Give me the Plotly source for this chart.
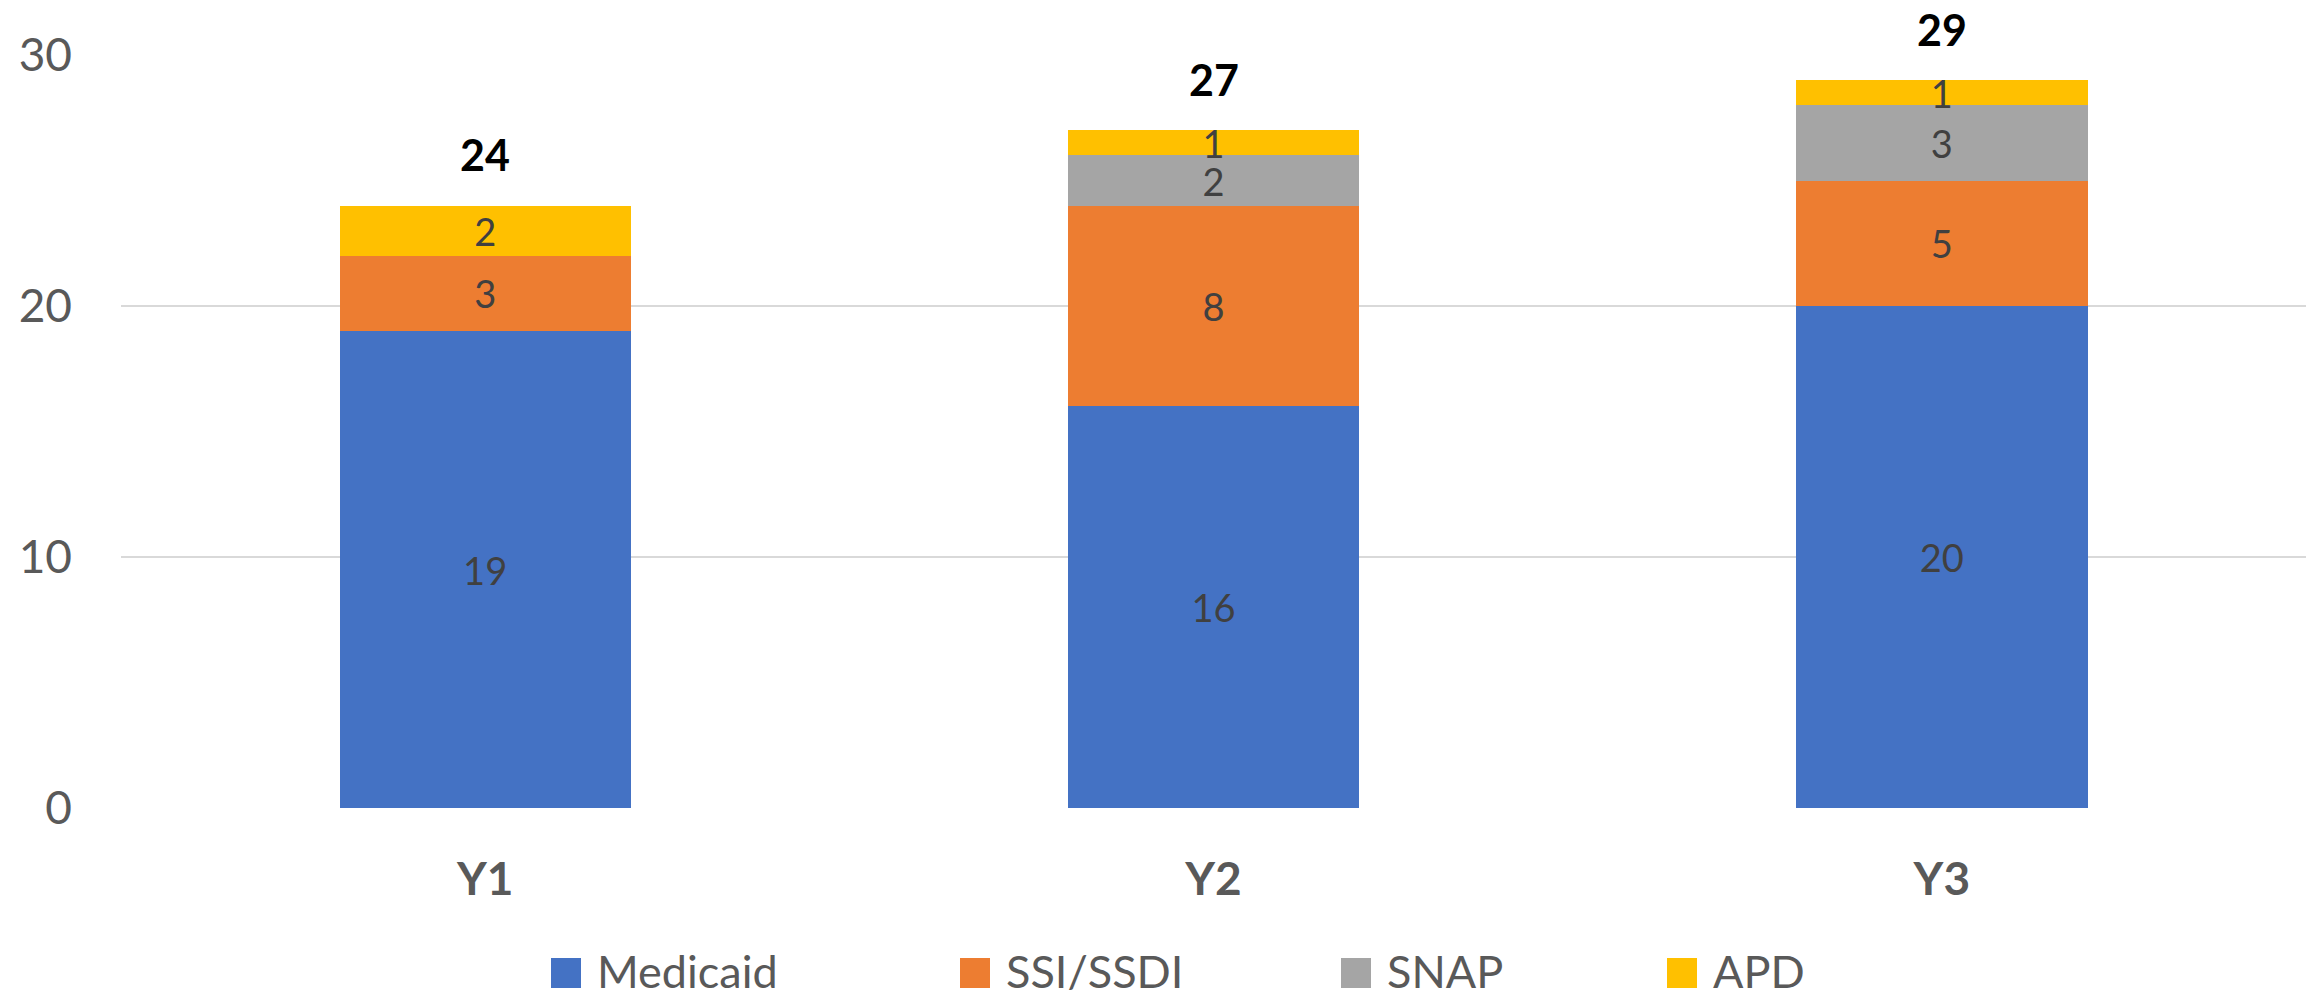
import plotly.graph_objects as go

# chart data
years = ["Y1", "Y2", "Y3"]
medicaid = [19, 16, 20]
ssi_ssdi = [3, 8, 5]
snap = [0, 2, 3]
apd = [2, 1, 1]

series_names = ["Medicaid", "SSI/SSDI", "SNAP", "APD"]
series_values = [medicaid, ssi_ssdi, snap, apd]
series_colors = ["#4472C4", "#ED7D31", "#A5A5A5", "#FFC000"]

totals = [sum(v) for v in zip(*series_values)]

# page geometry (pixels); the page body adds an 8px margin, so the figure
# is 16px smaller than the window and positions are given in figure pixels
W, H = 2300, 982
ML, MR, MT, MB = 113, 2, 47, 182
FONT = "Lato"


def px_x(px):
    return (px - ML) / (W - ML - MR)


def px_y(py):
    return (H - MB - py) / (H - MT - MB)


fig = go.Figure()

for name, vals, col in zip(series_names, series_values, series_colors):
    fig.add_trace(
        go.Bar(
            x=years,
            y=vals,
            name=name,
            marker=dict(color=col, line=dict(width=0)),
            text=[str(v) if v else "" for v in vals],
            textposition="inside",
            insidetextanchor="middle",
            constraintext="none",
            textangle=0,
            textfont=dict(family=FONT, size=38, color="#404040"),
            showlegend=False,
        )
    )

# totals above the stacks
for yr, tot in zip(years, totals):
    fig.add_annotation(
        x=yr, y=tot, text="<b>%d</b>" % tot, showarrow=False,
        yanchor="middle", yshift=51,
        font=dict(family=FONT, size=43, color="#000000"),
    )

# legend drawn by hand so the swatches match the original size
legend_left = [543, 952, 1333, 1659]
legend_cy = 963
sw = 30
for name, col, lx in zip(series_names, series_colors, legend_left):
    fig.add_shape(
        type="rect", xref="paper", yref="paper",
        x0=px_x(lx), x1=px_x(lx + sw),
        y0=px_y(legend_cy + 2 + sw / 2), y1=px_y(legend_cy + 2 - sw / 2),
        fillcolor=col, line=dict(width=0),
    )
    fig.add_annotation(
        xref="paper", yref="paper",
        x=px_x(lx + sw + 14), y=px_y(legend_cy),
        xanchor="left", yanchor="middle", showarrow=False,
        text=name, font=dict(family=FONT, size=45, color="#595959"),
    )

fig.update_layout(
    barmode="stack",
    bargap=0.6,
    width=W,
    height=H,
    margin=dict(l=ML, r=MR, t=MT, b=MB, autoexpand=False),
    plot_bgcolor="white",
    paper_bgcolor="white",
    font=dict(family=FONT, color="#595959"),
    xaxis=dict(
        showgrid=False, showline=False, ticks="",
        tickfont=dict(family=FONT, size=46, color="#595959", weight="bold"),
        ticklabelstandoff=40,
    ),
    yaxis=dict(
        range=[0, 30], tickvals=[0, 10, 20, 30],
        showgrid=True, gridcolor="#D9D9D9", gridwidth=2,
        zeroline=False, showline=False, ticks="",
        tickfont=dict(family=FONT, size=46, color="#595959"),
        ticklabelstandoff=48,
    ),
)

fig.write_html("out.html")
